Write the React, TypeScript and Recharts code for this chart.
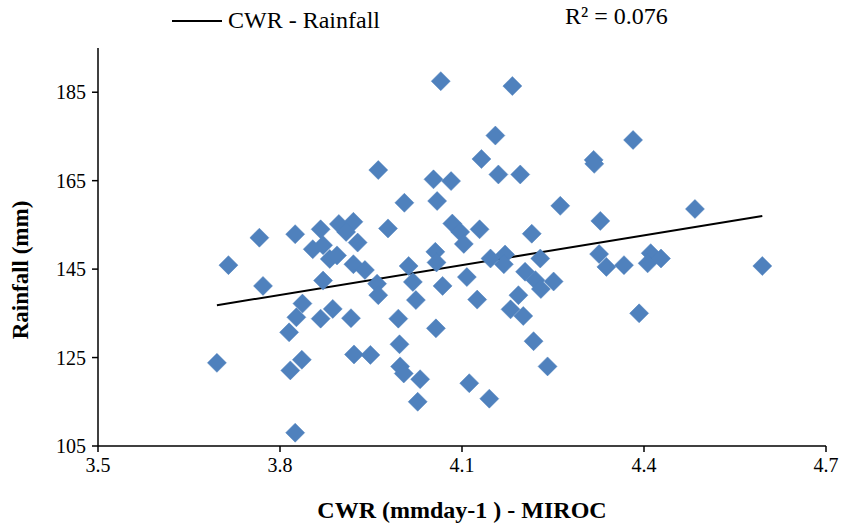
import React from 'react';
import { ScatterChart, Scatter, XAxis, YAxis, ReferenceLine, Label } from 'recharts';

// CWR (mm/day) under MIROC vs seasonal rainfall (mm)
const cwr = [
  3.696, 3.715, 3.766, 3.772, 3.825, 3.815, 3.827, 3.837, 3.817, 3.836,
  3.825, 3.867, 3.897, 3.921, 3.909, 3.871, 3.854, 3.882, 3.894, 3.928,
  3.921, 3.940, 3.871, 3.960, 3.962, 3.887, 3.867, 3.917, 3.922, 3.949,
  3.962, 4.065, 4.183, 4.155, 4.132, 4.053, 4.082, 4.160, 4.196, 4.262,
  4.005, 4.059, 3.978, 4.084, 4.097, 4.103, 4.129, 4.215, 4.056, 4.058,
  4.012, 4.147, 4.171, 4.169, 4.229, 4.204, 4.221, 4.251, 4.230, 4.108,
  4.068, 4.019, 4.125, 4.024, 3.995, 4.057, 3.997, 3.998, 4.004, 4.031,
  4.027, 4.112, 4.145, 4.193, 4.180, 4.201, 4.218, 4.241, 4.382, 4.317,
  4.318, 4.484, 4.328, 4.326, 4.338, 4.367, 4.411, 4.406, 4.428, 4.595, 4.392,
];

const rainfall = [
  123.8, 145.9, 152.1, 141.2, 108.0, 130.7, 134.1, 137.2, 122.1, 124.5,
  152.9, 154.0, 155.2, 155.7, 153.4, 150.4, 149.5, 147.3, 148.1, 151.0,
  146.1, 144.8, 142.4, 141.7, 139.1, 136.0, 133.8, 133.9, 125.7, 125.6,
  167.4, 187.5, 186.4, 175.2, 169.9, 165.3, 164.9, 166.4, 166.4, 159.3,
  160.0, 160.4, 154.2, 155.3, 153.4, 150.7, 154.0, 153.0, 148.9, 146.5,
  145.7, 147.4, 148.3, 146.1, 147.4, 144.4, 142.5, 142.2, 140.5, 143.2,
  141.2, 142.1, 138.1, 138.0, 133.8, 131.6, 128.0, 123.0, 121.4, 120.1,
  115.0, 119.2, 115.7, 139.1, 135.9, 134.4, 128.7, 123.0, 174.2, 169.7,
  168.8, 158.6, 155.9, 148.4, 145.5, 145.9, 148.6, 146.3, 147.4, 145.7, 135.0,
];

const xTicks = [3.5, 3.8, 4.1, 4.4, 4.7];
const yTicks = [105, 125, 145, 165, 185];

const data = cwr.map((x, i) => ({ x, y: rainfall[i] }));

// linear trendline (least squares), like Excel's
const n = data.length;
const mx = cwr.reduce((a, b) => a + b, 0) / n;
const my = rainfall.reduce((a, b) => a + b, 0) / n;
let sxy = 0;
let sxx = 0;
data.forEach((d) => {
  sxy += (d.x - mx) * (d.y - my);
  sxx += (d.x - mx) * (d.x - mx);
});
const slope = sxy / sxx;
const intercept = my - slope * mx;
const xMin = Math.min(...cwr);
const xMax = Math.max(...cwr);

const BLUE = '#4F81BD';
const FONT = '"Liberation Serif", "Times New Roman", serif';

const Diamond = (props: any) => {
  const { cx, cy } = props;
  const r = 9.5;
  return (
    <path
      d={`M${cx},${cy - r}L${cx + r},${cy}L${cx},${cy + r}L${cx - r},${cy}Z`}
      fill={BLUE}
      stroke={BLUE}
      strokeWidth={0.5}
      strokeLinejoin="round"
    />
  );
};

const App: React.FC = () => {
  return (
    <div
      style={{
        position: 'absolute',
        left: 0,
        top: 0,
        width: 841,
        height: 529,
        background: '#fff',
        fontFamily: FONT,
      }}
    >
      {/* legend + R² label, as Excel places them above the plot */}
      <div style={{ position: 'absolute', left: 172, top: 7, display: 'flex', alignItems: 'center' }}>
        <div style={{ width: 50, height: 2, background: '#000', marginRight: 6 }} />
        <span style={{ fontSize: 24, color: '#000' }}>CWR - Rainfall</span>
      </div>
      <div style={{ position: 'absolute', left: 565, top: 3, fontSize: 24, color: '#000' }}>
        R² = 0.076
      </div>

      <ScatterChart width={841} height={529} margin={{ top: 48, right: 15, bottom: 0, left: 0 }}>
        <XAxis
          type="number"
          dataKey="x"
          domain={[3.5, 4.7]}
          ticks={xTicks}
          tickFormatter={(v: number) => v.toFixed(1)}
          height={83}
          tickSize={6}
          tickMargin={6}
          stroke="#000"
          strokeWidth={1.5}
          tick={{ fill: '#000', fontSize: 20, fontFamily: FONT }}
          allowDataOverflow
        >
          <Label
            content={() => (
              <text
                x={462}
                y={518}
                textAnchor="middle"
                fontFamily={FONT}
                fontSize={24}
                fontWeight="bold"
                fill="#000"
              >
                CWR (mmday-1 ) - MIROC
              </text>
            )}
          />
        </XAxis>
        <YAxis
          type="number"
          dataKey="y"
          domain={[105, 195]}
          ticks={yTicks}
          width={98}
          tickSize={6}
          tickMargin={6}
          stroke="#000"
          strokeWidth={1.5}
          tick={{ fill: '#000', fontSize: 20, fontFamily: FONT }}
          allowDataOverflow
        >
          <Label
            content={() => (
              <text
                x={28}
                y={270}
                transform="rotate(-90 28 270)"
                textAnchor="middle"
                fontFamily={FONT}
                fontSize={23}
                fontWeight="bold"
                fill="#000"
              >
                Rainfall (mm)
              </text>
            )}
          />
        </YAxis>
        <Scatter data={data} shape={Diamond} isAnimationActive={false} />
        <ReferenceLine
          segment={[
            { x: xMin, y: slope * xMin + intercept },
            { x: xMax, y: slope * xMax + intercept },
          ]}
          stroke="#000"
          strokeWidth={2}
        />
      </ScatterChart>
    </div>
  );
};

export default App;
